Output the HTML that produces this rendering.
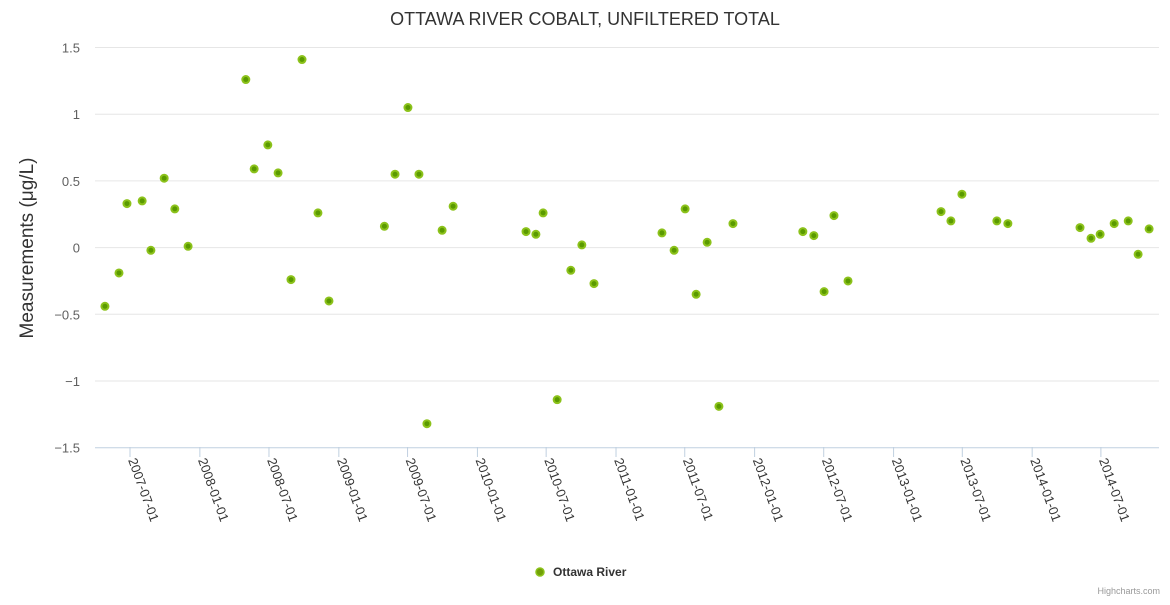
<!DOCTYPE html>
<html><head><meta charset="utf-8"><style>
body{margin:0;background:#fff;font-family:"Liberation Sans",sans-serif}
svg text{font-family:"Liberation Sans","DejaVu Sans",sans-serif}
</style></head><body>
<svg id="chart" width="1170" height="600">
<text x="585" y="25" text-anchor="middle" font-size="18" fill="#333">OTTAWA RIVER COBALT, UNFILTERED TOTAL</text>
<text transform="translate(33,248) rotate(-90)" text-anchor="middle" font-size="19" fill="#333">Measurements (μg/L)</text>
<g id="grid"></g><g id="xaxis"></g><g id="pts"></g>
<g>
<circle cx="540" cy="572" r="4" fill="#71a007" stroke="#8cc21b" stroke-width="1.5"/>
<text x="553" y="576" font-size="12" font-weight="bold" fill="#333">Ottawa River</text>
</g>
<text x="1160" y="594" text-anchor="end" font-size="9" fill="#999">Highcharts.com</text>
</svg>
<script>
const dates=["2007-04-26","2007-06-02","2007-06-23","2007-08-02","2007-08-25","2007-09-29","2007-10-27","2007-12-01","2008-05-01","2008-05-23","2008-06-28","2008-07-25","2008-08-28","2008-09-26","2008-11-07","2008-12-06","2009-05-01","2009-05-29","2009-07-02","2009-07-31","2009-08-21","2009-09-30","2009-10-29","2010-05-09","2010-06-04","2010-06-23","2010-07-30","2010-09-04","2010-10-03","2010-11-04","2011-05-02","2011-06-03","2011-07-02","2011-07-31","2011-08-29","2011-09-29","2011-11-05","2012-05-07","2012-06-05","2012-07-02","2012-07-28","2012-09-03","2013-05-06","2013-06-01","2013-06-30","2013-09-30","2013-10-29","2014-05-07","2014-06-05","2014-06-29","2014-08-05","2014-09-11","2014-10-07","2014-11-05"];
const values=[-0.44,-0.19,0.33,0.35,-0.02,0.52,0.29,0.01,1.26,0.59,0.77,0.56,-0.24,1.41,0.26,-0.40,0.16,0.55,1.05,0.55,-1.32,0.13,0.31,0.12,0.10,0.26,-1.14,-0.17,0.02,-0.27,0.11,-0.02,0.29,-0.35,0.04,-1.19,0.18,0.12,0.09,-0.33,0.24,-0.25,0.27,0.20,0.40,0.20,0.18,0.15,0.07,0.10,0.18,0.20,-0.05,0.14];
const yTicks=[-1.5,-1,-0.5,0,0.5,1,1.5];
const yLabels=["−1.5","−1","−0.5","0","0.5","1","1.5"];
const xTicks=["2007-07-01","2008-01-01","2008-07-01","2009-01-01","2009-07-01","2010-01-01","2010-07-01","2011-01-01","2011-07-01","2012-01-01","2012-07-01","2013-01-01","2013-07-01","2014-01-01","2014-07-01"];
const NS="http://www.w3.org/2000/svg";
const t0=Date.parse("2007-07-01"),DAY=86400000,PX=0.3797;
function xs(d){return 130+(Date.parse(d)-t0)/DAY*PX;}
function ys(v){return 247.6-v*133.4;}
function mk(tag,attrs,parent){const e=document.createElementNS(NS,tag);for(const k in attrs)e.setAttribute(k,attrs[k]);parent.appendChild(e);return e;}
const grid=document.getElementById('grid'),xa=document.getElementById('xaxis'),pts=document.getElementById('pts');
yTicks.forEach((v,i)=>{
 const l=mk('line',{x1:95,x2:1159,y1:ys(v),y2:ys(v),stroke:v===-1.5?'#c0d0e0':'#e6e6e6','stroke-width':1},grid);
 
 
 const t=mk('text',{x:80,y:ys(v)+5,'text-anchor':'end','font-size':13,fill:'#606060'},grid);
 t.textContent=yLabels[i];
 
 
});
xTicks.forEach(d=>{
 const x=xs(d);
 const l=mk('line',{x1:x,x2:x,y1:447,y2:457,stroke:'#c0d0e0'},xa);
 
 
 const t=mk('text',{transform:`translate(${x-2},${460}) rotate(70)`,'font-size':13,fill:'#333'},xa);
 t.textContent=d;
 
 
});
dates.forEach((d,i)=>{
 const c=mk('circle',{cx:xs(d),cy:ys(values[i]),r:3.5,fill:'#5a9a00',stroke:'#8cc21b','stroke-width':2},pts);
 
 
});
</script>
</body></html>
